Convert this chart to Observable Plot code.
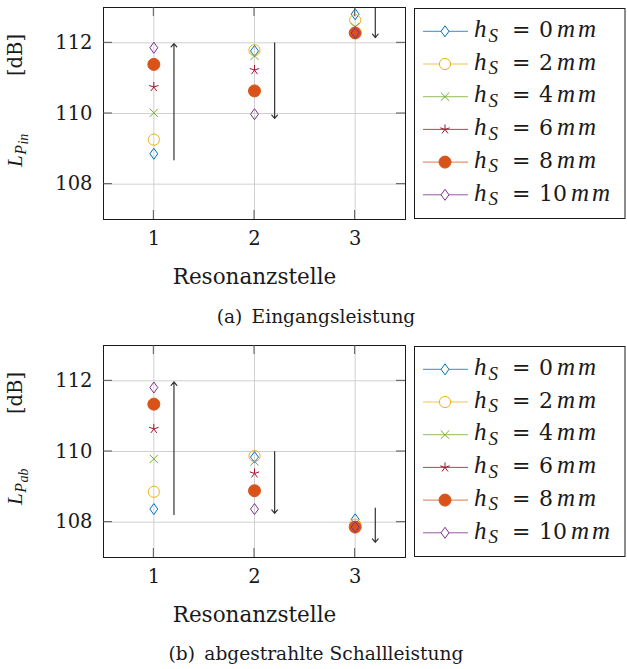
<!DOCTYPE html>
<html><head><meta charset="utf-8">
<script src="https://cdn.jsdelivr.net/npm/d3@7"></script>
<script src="https://cdn.jsdelivr.net/npm/@observablehq/plot@0.6"></script>
<style>
body{margin:0;background:#fff;}
#fig{position:relative;width:627px;height:669px;font-family:"DejaVu Serif",serif;color:#1a1a1a;}
.panel{position:absolute;left:0;width:627px;}
.panel svg{display:block;}
.caption{height:37.5px;line-height:30px;padding-top:1.5px;box-sizing:border-box;text-align:center;font-size:18.6px;padding-left:5px;white-space:pre;}
</style></head><body><div id="fig"></div><script>
// ---- data ----
const positions = [1, 2, 3];
const xTicks = [1, 2, 3];
const yTicks = [108, 110, 112];
const seriesNames = ["0", "2", "4", "6", "8", "10"];
const seriesColors = ["#0072BD", "#EDB120", "#77AC30", "#A2142F", "#D95319", "#7E2F8E"];

// (a) Eingangsleistung L_P_in [dB]
const pinH0  = [108.86, 111.77, 112.81];
const pinH2  = [109.26, 111.79, 112.64];
const pinH4  = [110.02, 111.63, 112.45];
const pinH6  = [110.75, 111.23, 112.30];
const pinH8  = [111.39, 110.64, 112.28];
const pinH10 = [111.86, 109.98, 112.28];
const pinArrowX    = [1.2, 2.2, 3.2];
const pinArrowFrom = [108.69, 112.0, 113.0];
const pinArrowTo   = [111.98, 109.86, 112.15];

// (b) abgestrahlte Schallleistung L_P_ab [dB]
const pabH0  = [108.37, 109.84, 108.08];
const pabH2  = [108.86, 109.87, 107.93];
const pabH4  = [109.79, 109.72, 107.90];
const pabH6  = [110.64, 109.38, 107.88];
const pabH8  = [111.34, 108.89, 107.86];
const pabH10 = [111.81, 108.37, 107.86];
const pabArrowX    = [1.2, 2.2, 3.2];
const pabArrowFrom = [108.22, 110.0, 108.4];
const pabArrowTo   = [111.97, 108.25, 107.43];

const xLabel = "Resonanzstelle";
const captionA = "(a)\u2002Eingangsleistung";
const captionB = "(b)\u2002abgestrahlte Schallleistung";

const mathFont = "Liberation Serif";

// ---- symbols ----
const rad = s => Math.sqrt(s / Math.PI);
const thinDiamond = {draw(c, s) { const r = rad(s), w = r * 0.72; c.moveTo(0, -r); c.lineTo(w, 0); c.lineTo(0, r); c.lineTo(-w, 0); c.closePath(); }};
const ring = {draw(c, s) { const r = rad(s); c.moveTo(r, 0); c.arc(0, 0, r, 0, 2 * Math.PI); c.closePath(); }};
const cross = {draw(c, s) { const r = rad(s) * 0.7071; c.moveTo(-r, -r); c.lineTo(r, r); c.moveTo(r, -r); c.lineTo(-r, r); }};
const star5 = {draw(c, s) { const r = rad(s); for (let k = 0; k < 5; k++) { const a = -Math.PI / 2 + k * 2 * Math.PI / 5; c.moveTo(0, 0); c.lineTo(r * Math.cos(a), r * Math.sin(a)); } }};
const markerStyles = [
  {symbol: thinDiamond, r: 5.5, filled: false},
  {symbol: ring, r: 5.6, filled: false},
  {symbol: cross, r: 5.9, filled: false},
  {symbol: star5, r: 5.0, filled: false},
  {symbol: ring, r: 6.0, filled: true},
  {symbol: thinDiamond, r: 5.5, filled: false}
];

function buildPanel(series, arrowX, arrowFrom, arrowTo, sub, caption, top) {
  const data = series.flatMap((vals, i) => vals.map((v, j) => ({x: positions[j], y: v, s: i})));
  const arrows = arrowX.map((x, i) => ({x, y1: arrowFrom[i], y2: arrowTo[i]}));
  const chart = Plot.plot({
    width: 627, height: 300,
    marginTop: 7, marginBottom: 81, marginLeft: 103, marginRight: 222,
    style: {fontFamily: "DejaVu Serif", background: "white", color: "#1a1a1a", overflow: "visible"},
    x: {domain: [0.5, 3.5], label: null},
    y: {domain: [107, 113], label: null},
    marks: [
      Plot.gridX(xTicks, {stroke: "#d0d0d0", strokeOpacity: 1}),
      Plot.gridY(yTicks, {stroke: "#d0d0d0", strokeOpacity: 1}),
      Plot.axisX(xTicks, {tickSize: 0, tickPadding: 12, fontSize: 19.5, label: null, tickFormat: d => String(d)}),
      Plot.axisY(yTicks, {tickSize: 0, tickPadding: 11, fontSize: 19.5, label: null, tickFormat: d => String(d)}),
      Plot.arrow(arrows, {x: "x", y1: "y1", y2: "y2", stroke: "#333", strokeWidth: 1.2, headLength: 5.5, headAngle: 80}),
      ...markerStyles.map((st, i) => Plot.dot(data.filter(d => d.s === i), {
        x: "x", y: "y", symbol: st.symbol, r: st.r,
        stroke: seriesColors[i], fill: st.filled ? seriesColors[i] : "none", strokeWidth: 1
      })),
      Plot.frame({stroke: "#1a1a1a"}),
      Plot.text([xLabel], {frameAnchor: "bottom", dy: 64, lineAnchor: "bottom", fontSize: 21.5})
    ]
  });
  const svg = d3.select(chart);
  const xs = chart.scale("x"), ys = chart.scale("y");
  const L = xs.apply(0.5), R = xs.apply(3.5), T = ys.apply(113), B = ys.apply(107);
  const tk = svg.append("g").attr("stroke", "#555").attr("stroke-width", 1);
  yTicks.forEach(v => {
    const y = ys.apply(v);
    tk.append("line").attr("x1", L).attr("x2", L + 9).attr("y1", y).attr("y2", y);
    tk.append("line").attr("x1", R - 9).attr("x2", R).attr("y1", y).attr("y2", y);
  });
  xTicks.forEach(v => {
    const x = xs.apply(v);
    tk.append("line").attr("x1", x).attr("x2", x).attr("y1", B - 9).attr("y2", B);
    tk.append("line").attr("x1", x).attr("x2", x).attr("y1", T).attr("y2", T + 9);
  });

  // y label (rotated), from y=167 upward
  const yl = svg.append("text").attr("transform", "translate(21.5,167) rotate(-90)")
    .attr("x", 0).attr("y", 0)
    .attr("text-anchor", "start").attr("font-size", 19.5).attr("fill", "#1a1a1a");
  yl.append("tspan").attr("font-family", mathFont).attr("font-style", "italic").attr("font-size", 21).text("L");
  yl.append("tspan").attr("dx", 0.5).attr("dy", 4).attr("font-family", mathFont).attr("font-style", "italic").attr("font-size", 16).text("P");
  yl.append("tspan").attr("dx", 0.5).attr("dy", 2.5).attr("font-family", mathFont).attr("font-style", "italic").attr("font-size", 14).text(sub);
  const dbSpan = yl.append("tspan").attr("dx", 50).attr("dy", -6.5).text("[dB]");

  // legend
  const lg = svg.append("g");
  lg.append("rect").attr("x", 414.5).attr("y", 8.5).attr("width", 210.5).attr("height", 210)
    .attr("fill", "white").attr("stroke", "#1a1a1a").attr("stroke-width", 1);
  seriesNames.forEach((name, i) => {
    const cy = 31.3 + i * 32.7, st = markerStyles[i], col = seriesColors[i];
    lg.append("line").attr("x1", 423).attr("x2", 468).attr("y1", cy).attr("y2", cy).attr("stroke", col).attr("stroke-opacity", 0.8);
    lg.append("path").attr("transform", `translate(445,${cy})`)
      .attr("d", d3.symbol(st.symbol, st.r * st.r * Math.PI)())
      .attr("stroke", col).attr("fill", st.filled ? col : "white");
    const t = lg.append("text").attr("y", cy + 5.7).attr("text-anchor", "start").attr("font-size", 22).attr("fill", "#1a1a1a");
    t.append("tspan").attr("x", 474).attr("font-family", mathFont).attr("font-style", "italic").attr("font-size", 25).text("h");
    t.append("tspan").attr("x", 488.5).attr("dy", 4.5).attr("font-family", mathFont).attr("font-style", "italic").attr("font-size", 19).text("S");
    t.append("tspan").attr("x", 512).attr("dy", -4.5).text("=");
    t.append("tspan").attr("x", 539).text(name);
    t.append("tspan").attr("dx", 4).attr("font-family", mathFont).attr("font-style", "italic").attr("font-size", 25).attr("letter-spacing", 3).text("mm");
  });

  const wrap = document.createElement("div");
  wrap.className = "panel";
  wrap.style.top = top + "px";
  wrap.appendChild(chart);
  const cap = document.createElement("div");
  cap.className = "caption";
  cap.textContent = caption;
  wrap.appendChild(cap);
  document.getElementById("fig").appendChild(wrap);

  // fit the y label so that it spans 134 px along the axis
  try {
    const bb = yl.node().getBBox();
    const cur = +dbSpan.attr("dx");
    dbSpan.attr("dx", cur + (134 - bb.width));
  } catch (e) {}
}

buildPanel([pinH0, pinH2, pinH4, pinH6, pinH8, pinH10], pinArrowX, pinArrowFrom, pinArrowTo, "in", captionA, 0);
buildPanel([pabH0, pabH2, pabH4, pabH6, pabH8, pabH10], pabArrowX, pabArrowFrom, pabArrowTo, "ab", captionB, 337.5);
</script></body></html>
